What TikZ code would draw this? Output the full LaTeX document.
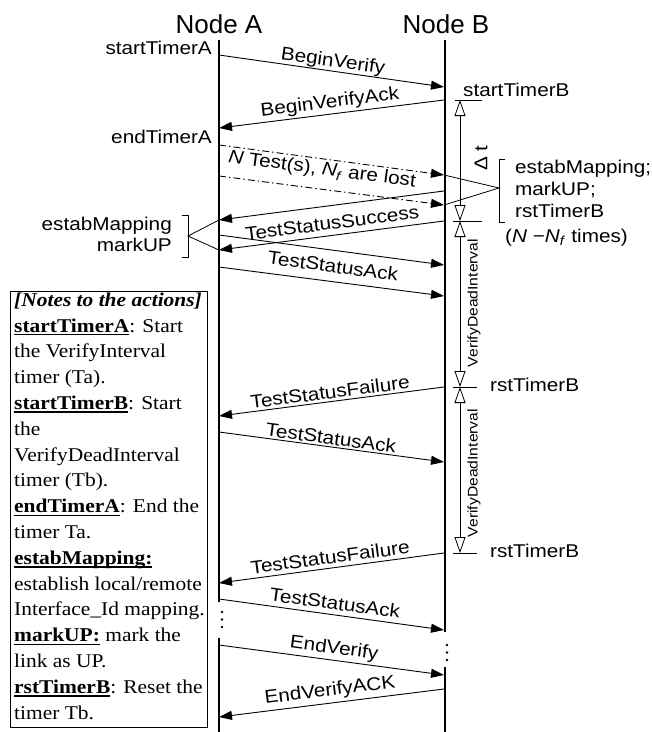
\documentclass[tikz,border=0pt]{standalone}
\usepackage{fontspec}
\setmainfont{Liberation Serif}
\newfontfamily\arialS[FakeStretch=1.12]{Liberation Sans}
\newfontfamily\arialN{Liberation Sans}
\newfontfamily\timesS[FakeStretch=1.1]{Liberation Serif}
\usetikzlibrary{arrows.meta}
\newcommand\myul[1]{\leavevmode\setbox0\hbox{#1}\rlap{\vrule width\wd0 height -2pt depth 3.3pt}\box0\relax}
\tikzset{
  lifelinestyle/.style={line width=2pt},
  msgarrow/.style={line width=0.9pt, -{Triangle[length=13pt,width=9pt]}},
  lostarrow/.style={msgarrow, dash pattern=on 7pt off 3pt on 1.5pt off 3pt},
  labeltext/.style={font=\arialS\fontsize{18.5}{21}\selectfont, inner sep=0pt},
  headtext/.style={font=\arialN\fontsize{26}{30}\selectfont, inner sep=0pt},
  tickline/.style={line width=0.9pt},
  ivl/.style={line width=0.8pt, {Triangle[open,length=16pt,width=11pt]}-{Triangle[open,length=16pt,width=11pt]}},
  vlabel/.style={font=\arialS\fontsize{14}{16}\selectfont, inner sep=0pt, rotate=90},
  bracketline/.style={line width=0.8pt},
  notestext/.style={font=\timesS\fontsize{19.5}{25.8}\selectfont, inner sep=0pt, align=left},
}
\begin{document}
\begin{tikzpicture}[x=1pt,y=-1pt]
\useasboundingbox (0,0) rectangle (652,732);
% headings
\node[headtext, anchor=base] (hA) at (219,33) {Node A};
\node[headtext, anchor=base] (hB) at (446,33) {Node B};
% lifelines
\coordinate (A0) at (218.5,40); \coordinate (A1) at (218.5,602);
\coordinate (A2) at (218.5,638); \coordinate (A3) at (218.5,732);
\coordinate (B0) at (445,40); \coordinate (B1) at (445,632);
\coordinate (B2) at (445,667); \coordinate (B3) at (445,732);
\draw[lifelinestyle] (A0)--(A1) (A2)--(A3) (B0)--(B1) (B2)--(B3);
\foreach \y in {612,619.5,627} \fill (222,\y) circle (1.4);
\foreach \y in {645,652.5,660} \fill (447,\y) circle (1.4);
% message end points
\coordinate (m1s) at (219,55);   \coordinate (m1e) at (444,87);
\coordinate (m2s) at (444,100);  \coordinate (m2e) at (219,128);
\coordinate (m3s) at (219,145);  \coordinate (m3e) at (444,175);
\coordinate (m4s) at (219,176);  \coordinate (m4e) at (444,205);
\coordinate (m5s) at (444,191);  \coordinate (m5e) at (219,220);
\coordinate (m6s) at (444,221);  \coordinate (m6e) at (219,250);
\coordinate (m7s) at (219,235);  \coordinate (m7e) at (444,265);
\coordinate (m8s) at (219,267);  \coordinate (m8e) at (444,296);
\coordinate (m9s) at (444,387);  \coordinate (m9e) at (219,416);
\coordinate (m10s) at (219,432); \coordinate (m10e) at (444,462);
\coordinate (m11s) at (444,553); \coordinate (m11e) at (219,583);
\coordinate (m12s) at (219,599); \coordinate (m12e) at (444,630);
\coordinate (m13s) at (219,645); \coordinate (m13e) at (444,675);
\coordinate (m14s) at (444,689); \coordinate (m14e) at (219,717);
% messages
\draw[msgarrow] (m1s) -- (m1e);
\draw[msgarrow] (m2s) -- (m2e);
\draw[lostarrow] (m3s) -- (m3e);
\draw[lostarrow] (m4s) -- (m4e);
\draw[msgarrow] (m5s) -- (m5e);
\draw[msgarrow] (m6s) -- (m6e);
\draw[msgarrow] (m7s) -- (m7e);
\draw[msgarrow] (m8s) -- (m8e);
\draw[msgarrow] (m9s) -- (m9e);
\draw[msgarrow] (m10s) -- (m10e);
\draw[msgarrow] (m11s) -- (m11e);
\draw[msgarrow] (m12s) -- (m12e);
\draw[msgarrow] (m13s) -- (m13e);
\draw[msgarrow] (m14s) -- (m14e);
% message labels
\node[labeltext, rotate=-8] (l1) at (333,62) {BeginVerify};
\node[labeltext, rotate=7] (l2) at (330,103) {BeginVerifyAck};
\node[labeltext, rotate=-7.5] (l3) at (322,170) {\textit{N} Test(s), \textit{N}\textsubscript{\textit{f}} are lost};
\node[labeltext, rotate=7.3] (l4) at (332,223) {TestStatusSuccess};
\node[labeltext, rotate=-7.5] (l5) at (333,266) {TestStatusAck};
\node[labeltext, rotate=7.3] (l6) at (330,392) {TestStatusFailure};
\node[labeltext, rotate=-7.5] (l7) at (331,438) {TestStatusAck};
\node[labeltext, rotate=7.5] (l8) at (330,557) {TestStatusFailure};
\node[labeltext, rotate=-7.7] (l9) at (335,603) {TestStatusAck};
\node[labeltext, rotate=-7.5] (l10) at (334,649) {EndVerify};
\node[labeltext, rotate=7] (l11) at (330,691) {EndVerifyACK};
% left action labels
\node[labeltext, anchor=base east] (sTA) at (212,54.5) {startTimerA};
\node[labeltext, anchor=base east] (eTA) at (212,143) {endTimerA};
\node[labeltext, anchor=base east] (eMA) at (172,230) {estabMapping};
\node[labeltext, anchor=base east] (mUA) at (172,251) {markUP};
\coordinate (lb) at (188,236);
\draw[bracketline] (182,215) -- (188,215) -- (188,257) -- (182,257);
\draw[bracketline] (m5e) -- (lb) -- (m6e);
% timers at node B
\coordinate (t1) at (460,100); \coordinate (t2) at (460,221);
\coordinate (t3) at (460,387); \coordinate (t4) at (460,553);
\draw[tickline] (455,100) -- (482,100);
\draw[tickline] (453,221) -- (482,221);
\draw[tickline] (453,387) -- (477,387);
\draw[tickline] (453,553) -- (477,553);
\draw[ivl] (t1) -- (t2);
\draw[ivl] (t2) -- (t3);
\draw[ivl] (t3) -- (t4);
\node[labeltext, anchor=base west] (sTB) at (463,96) {startTimerB};
\node[labeltext, rotate=90] (dt) at (481,158) {Δ t};
\node[vlabel] (vdi1) at (474,303) {VerifyDeadInterval};
\node[vlabel] (vdi2) at (474,473) {VerifyDeadInterval};
\node[labeltext, anchor=base west] (rst1) at (490,391) {rstTimerB};
\node[labeltext, anchor=base west] (rst2) at (490,557) {rstTimerB};
% right bracket
\coordinate (rb) at (499,188);
\draw[bracketline] (505,159) -- (499,159) -- (499,222) -- (505,222);
\draw[bracketline] (m3e) -- (rb) -- (m4e);
\node[labeltext, anchor=base west] (eMB) at (515,173) {estabMapping;};
\node[labeltext, anchor=base west] (mUB) at (515,195) {markUP;};
\node[labeltext, anchor=base west] (rTB) at (515,217) {rstTimerB};
\node[labeltext, anchor=base west] (nt) at (505,242) {(\textit{N} −\textit{N}\textsubscript{\textit{f}} times)};
% notes box
\draw[line width=0.8pt] (10,291) rectangle (207,727);
\node[notestext, anchor=north west] (notes) at (14,292.5) {%
\textbf{\textit{[Notes to the actions]}}\\
\myul{\textbf{startTimerA}}: Start\\
the VerifyInterval\\
timer (Ta).\\
\myul{\textbf{startTimerB}}: Start\\
the\\
VerifyDeadInterval\\
timer (Tb).\\
\myul{\textbf{endTimerA}}: End the\\
timer Ta.\\
\myul{\textbf{estabMapping:}}\\
establish local/remote\\
Interface\_Id mapping.\\
\myul{\textbf{markUP:}} mark the\\
link as UP.\\
\myul{\textbf{rstTimerB}}: Reset the\\
timer Tb.};
\end{tikzpicture}
\end{document}
